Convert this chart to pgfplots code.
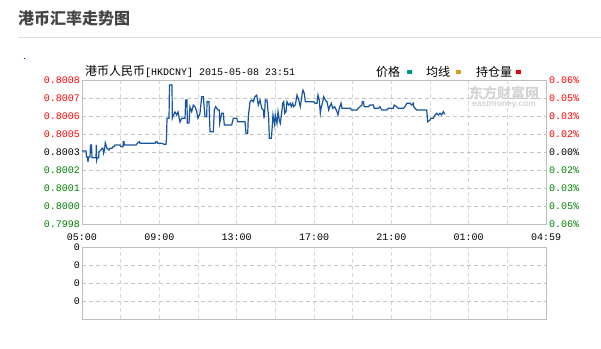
\documentclass[border=0pt]{standalone}
\usepackage{pgfplots}
\usepackage{pgfplotstable}
\pgfplotsset{compat=1.18}
\usepackage{fontspec}
\setmainfont{Liberation Sans}
\newfontfamily\cjk{Noto Sans CJK SC}
\newfontfamily\mono{Liberation Mono}
\definecolor{lineblue}{RGB}{22,84,160}
\definecolor{gridc}{RGB}{196,196,196}
\definecolor{vgridc}{RGB}{216,216,216}
\definecolor{framec}{RGB}{190,190,190}
\definecolor{upred}{RGB}{255,0,0}
\definecolor{dngreen}{RGB}{0,128,0}
\definecolor{titlec}{RGB}{68,68,68}
\definecolor{legteal}{RGB}{0,150,136}
\definecolor{leggold}{RGB}{212,160,32}
\definecolor{legred}{RGB}{240,0,0}

\pgfplotstableread{
h p
0 0.800337
0.207 0.800337
0.233 0.800297
0.284 0.800297
0.310 0.800263
0.336 0.800297
0.414 0.800297
0.440 0.800377
0.491 0.800377
0.517 0.800292
0.724 0.800292
0.740 0.800377
0.760 0.800277
0.791 0.800292
0.864 0.800292
0.879 0.800332
0.983 0.800343
1.034 0.800355
1.086 0.800355
1.112 0.800321
1.164 0.800343
1.205 0.800392
1.241 0.800377
1.293 0.800355
1.397 0.800343
1.448 0.800355
1.552 0.800355
1.603 0.800365
1.655 0.800365
1.707 0.800377
1.966 0.800377
2.017 0.800365
2.121 0.800365
2.136 0.800399
2.172 0.800399
2.188 0.800377
2.793 0.800377
2.897 0.800392
2.974 0.800399
3.000 0.800388
3.776 0.800388
3.828 0.800399
3.879 0.800399
3.905 0.800388
4.138 0.800388
4.241 0.800381
4.345 0.800381
4.371 0.800423
4.397 0.800555
4.500 0.800555
4.526 0.800777
4.655 0.800777
4.671 0.800555
4.743 0.800577
4.810 0.800597
4.898 0.800577
4.966 0.800597
5.069 0.800530
5.157 0.800555
5.328 0.800555
5.364 0.800677
5.431 0.800677
5.447 0.800523
5.534 0.800523
5.586 0.800630
5.674 0.800599
5.757 0.800643
5.845 0.800632
5.933 0.800599
6.000 0.800555
6.103 0.800588
6.191 0.800699
6.274 0.800699
6.362 0.800565
6.450 0.800565
6.466 0.800665
6.569 0.800665
6.621 0.800465
6.791 0.800465
6.843 0.800610
6.915 0.800632
7.034 0.800610
7.102 0.800610
7.122 0.800523
7.226 0.800588
7.309 0.800588
7.360 0.800510
7.743 0.800510
7.826 0.800555
8.002 0.800555
8.053 0.800532
8.431 0.800532
8.483 0.800455
8.571 0.800455
8.602 0.800565
8.690 0.800665
8.778 0.800677
8.860 0.800665
8.948 0.800699
9.036 0.800710
9.119 0.800643
9.207 0.800677
9.295 0.800621
9.378 0.800610
9.414 0.800555
9.450 0.800599
9.481 0.800677
9.569 0.800677
9.657 0.800555
9.688 0.800421
9.791 0.800421
9.828 0.800477
9.879 0.800577
9.967 0.800510
9.998 0.800577
10.086 0.800521
10.138 0.800599
10.205 0.800543
10.257 0.800521
10.345 0.800610
10.381 0.800655
10.433 0.800665
10.484 0.800588
10.552 0.800599
10.603 0.800665
10.691 0.800643
10.774 0.800655
10.826 0.800632
10.898 0.800655
10.950 0.800632
11.033 0.800643
11.121 0.800710
11.209 0.800677
11.291 0.800632
11.343 0.800677
11.379 0.800710
11.431 0.800743
11.498 0.800721
11.550 0.800665
11.984 0.800665
12.052 0.800655
12.155 0.800655
12.207 0.800710
12.274 0.800677
12.326 0.800588
12.378 0.800632
12.414 0.800643
12.502 0.800699
12.584 0.800677
12.672 0.800665
12.760 0.800610
12.812 0.800632
12.895 0.800655
12.967 0.800621
13.071 0.800632
13.190 0.800599
13.241 0.800577
13.309 0.800621
13.397 0.800655
13.448 0.800621
13.898 0.800621
13.929 0.800610
14.053 0.800610
14.224 0.800610
14.276 0.800621
14.483 0.800643
14.498 0.800665
14.550 0.800665
14.602 0.800632
14.809 0.800632
14.897 0.800643
15.067 0.800643
15.119 0.800621
15.326 0.800621
15.414 0.800632
15.502 0.800610
15.760 0.800610
15.843 0.800621
16.102 0.800621
16.153 0.800643
16.278 0.800632
16.360 0.800621
16.619 0.800621
16.707 0.800632
16.795 0.800655
16.966 0.800655
17.054 0.800643
17.136 0.800655
17.157 0.800632
17.224 0.800621
17.312 0.800610
17.829 0.800610
17.881 0.800532
18.000 0.800543
18.052 0.800555
18.171 0.800555
18.259 0.800577
18.347 0.800588
18.429 0.800577
18.517 0.800588
18.605 0.800577
18.688 0.800599
18.740 0.800588
18.776 0.800581
}\pricedata

\pgfplotsset{
  panel/.style={
    scale only axis, width=464pt, anchor=south west,
    xmin=0, xmax=24,
    axis line style={draw=framec, line width=0.8pt},
    tick style={draw=none},
    xtick={0,4,...,24}, minor xtick={2,6,...,22},
    grid=both,
    major x grid style={vgridc, dash pattern=on 4pt off 3pt, line width=0.7pt},
    minor x grid style={vgridc, dash pattern=on 4pt off 3pt, line width=0.7pt},
    major y grid style={gridc, dash pattern=on 4pt off 3pt, line width=0.7pt},
    yticklabel style={font=\mono\fontsize{10}{10}\selectfont, anchor=east, inner sep=0pt, xshift=-2pt},
    xticklabel style={font=\mono\fontsize{10}{10}\selectfont, anchor=north, inner sep=0pt, yshift=-10pt},
  }
}

\begin{document}
\begin{tikzpicture}
\path[use as bounding box, fill=white] (0pt,0pt) rectangle (601pt,348pt);
\node[anchor=west, text=titlec, font=\cjk\bfseries\fontsize{16}{16}\selectfont, inner sep=0pt] at (18pt,330pt) {港币汇率走势图};
\draw[color=black!12, line width=1pt] (18pt,310pt) -- (601pt,310pt);
\fill[blue] (23.5pt,288.5pt) rectangle (24.5pt,289.5pt);
\node[anchor=west, inner sep=0pt] at (85pt,276pt) {{\cjk\fontsize{12}{12}\selectfont 港币人民币}{\mono\fontsize{10}{10}\selectfont[HKDCNY] 2015-05-08 23:51}};
\node[anchor=west, inner sep=0pt, font=\cjk\fontsize{12}{12}\selectfont] at (376pt,276pt) {价格};
\fill[legteal] (407pt,274pt) rectangle (412pt,277.5pt);
\node[anchor=west, inner sep=0pt, font=\cjk\fontsize{12}{12}\selectfont] at (426pt,276pt) {均线};
\fill[leggold] (456pt,274pt) rectangle (461pt,277.5pt);
\node[anchor=west, inner sep=0pt, font=\cjk\fontsize{12}{12}\selectfont] at (476pt,276pt) {持仓量};
\fill[legred] (516pt,274pt) rectangle (521pt,277.5pt);

\begin{axis}[panel, at={(82pt,124pt)}, height=144pt,
  ymin=0.79985, ymax=0.80081,
  ytick={0.79985,0.79997,0.80009,0.80021,0.80033,0.80045,0.80057,0.80069,0.80081},
  yticklabels={\textcolor{dngreen}{0.7998},\textcolor{dngreen}{0.8000},\textcolor{dngreen}{0.8001},\textcolor{dngreen}{0.8002},\textcolor{black}{0.8003},\textcolor{upred}{0.8005},\textcolor{upred}{0.8006},\textcolor{upred}{0.8007},\textcolor{upred}{0.8008}},
  xticklabels={05:00,09:00,13:00,17:00,21:00,01:00,04:59},
]
\addplot[lineblue, line width=1.2pt, no marks] table[x=h, y=p] {\pricedata};
\end{axis}

\begin{axis}[at={(82pt,124pt)}, anchor=south west, scale only axis, width=464pt, height=144pt,
  xmin=0, xmax=24, ymin=-0.06, ymax=0.06,
  axis x line=none, axis y line*=right,
  scaled y ticks=false,
  y axis line style={draw=none}, tick style={draw=none},
  ytick={-0.06,-0.045,-0.03,-0.015,0,0.015,0.03,0.045,0.06},
  yticklabels={\textcolor{dngreen}{0.06\%},\textcolor{dngreen}{0.05\%},\textcolor{dngreen}{0.03\%},\textcolor{dngreen}{0.02\%},\textcolor{black}{0.00\%},\textcolor{upred}{0.02\%},\textcolor{upred}{0.03\%},\textcolor{upred}{0.05\%},\textcolor{upred}{0.06\%}},
  yticklabel style={font=\mono\fontsize{10}{10}\selectfont, anchor=west, inner sep=0pt, xshift=3pt},
]
\end{axis}

\begin{axis}[panel, at={(82pt,29pt)}, height=72pt,
  ymin=0, ymax=4, ytick={1,2,3,4}, yticklabels={0,0,0,0},
  xticklabels={,,,,,,},
]
\end{axis}

\node[text=black!17, font=\cjk\bfseries\fontsize{14}{14}\selectfont] at (504pt,255pt) {东方财富网};
\node[text=black!17, font=\bfseries\fontsize{8.5}{8.5}\selectfont] at (504pt,243pt) {eastmoney.com};
\end{tikzpicture}
\end{document}
